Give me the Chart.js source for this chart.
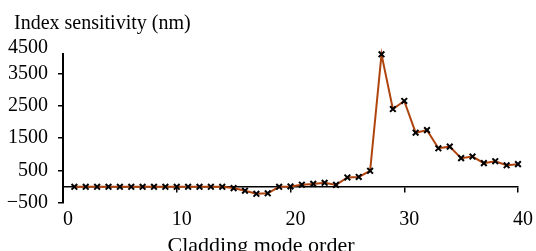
<!DOCTYPE html>
<html>
<head>
<meta charset="utf-8">
<script src="https://cdn.jsdelivr.net/npm/chart.js@4.4.0/dist/chart.umd.min.js"></script>
<style>
  html, body { margin: 0; padding: 0; background: #fff; }
  #wrap { width: 536px; height: 251px; }
</style>
</head>
<body>
<div id="wrap"><canvas id="chart" width="536" height="251"></canvas></div>
<script>
// cladding mode order (x) and index sensitivity in nm (y)
const modeOrder = [1, 2, 3, 4, 5, 6, 7, 8, 9, 10, 11, 12, 13, 14, 15, 16, 17, 18, 19, 20,
  21, 22, 23, 24, 25, 26, 27, 28, 29, 30, 31, 32, 33, 34, 35, 36, 37, 38, 39, 40];
const sensitivity = [0, 0, 0, 0, 0, 0, 0, 0, 0, 0, 0, 0, 0, 0, -40, -120, -215, -200, 0, 10,
  65, 90, 125, 60, 290, 305, 495, 4090, 2400, 2650, 1670, 1750, 1190, 1240, 885, 935, 730, 790, 665, 700];
const yTicks = [-500, 500, 1500, 2500, 3500, 4500];
const xTicks = [0, 10, 20, 30, 40];

const yTitle = "Index sensitivity (nm)";
const xTitle = "Cladding mode order";
const FONT = "'Liberation Serif', 'Times New Roman', serif";
const Y_TOP = 4100; // axis line stops at the peak, the 4500 label sits above it

// axis titles drawn as plain canvas text
const titles = {
  id: "titles",
  afterDraw(chart) {
    const c = chart.ctx;
    c.save();
    c.fillStyle = "#000";
    c.textBaseline = "alphabetic";
    c.font = "20px " + FONT;
    c.textAlign = "left";
    c.fillText(yTitle, 14, 29);
    c.font = "22px " + FONT;
    c.textAlign = "center";
    c.fillText(xTitle, 261, 252);
    c.restore();
  }
};

const points = modeOrder.map((x, i) => ({ x: x, y: sensitivity[i] }));

new Chart(document.getElementById("chart"), {
  type: "line",
  data: {
    datasets: [{
      data: points,
      borderColor: "#b0440e",
      borderWidth: 2,
      tension: 0,
      pointStyle: "crossRot",
      pointRadius: 4,
      pointBorderWidth: 2,
      pointBorderColor: "#000",
      pointBackgroundColor: "#000",
      clip: false
    }]
  },
  options: {
    responsive: false,
    animation: false,
    layout: { padding: { left: 0, right: 18, top: 54, bottom: 48 } },
    plugins: { legend: { display: false }, tooltip: { enabled: false } },
    scales: {
      x: {
        type: "linear",
        position: { y: 0 },
        min: 0,
        max: 40,
        afterBuildTicks: s => { s.ticks = xTicks.map(v => ({ value: v })); },
        afterFit: s => { s.paddingLeft = 0; s.paddingRight = 0; },
        border: { color: "#000", width: 1.5 },
        grid: { drawOnChartArea: false, color: "#000", tickLength: 5, lineWidth: 1.5 },
        ticks: { color: "#000", font: { family: FONT, size: 20 }, padding: 16, labelOffset: 5, maxRotation: 0, autoSkip: false }
      },
      y: {
        min: -500,
        max: Y_TOP,
        afterBuildTicks: s => { s.ticks = yTicks.map(v => ({ value: v })); },
        afterFit: s => { s.width = 63; s.paddingTop = 0; s.paddingBottom = 0; },
        border: { color: "#000", width: 2 },
        grid: {
          drawOnChartArea: false,
          lineWidth: 1.5,
          tickLength: 5,
          tickColor: ctx => (ctx.tick && ctx.tick.value > Y_TOP ? "rgba(0,0,0,0)" : "#000")
        },
        ticks: {
          color: "#000",
          autoSkip: false,
          font: ctx => ({ family: FONT, size: 20, lineHeight: ctx.tick && ctx.tick.value > Y_TOP ? 0.7 : 1.2 }),
          padding: 10,
          callback: v => {
            const s = v < 0 ? "\u2212" + Math.abs(v) : String(v);
            return v > Y_TOP ? ["", s] : s;
          }
        }
      }
    }
  },
  plugins: [titles]
});
</script>
</body>
</html>
